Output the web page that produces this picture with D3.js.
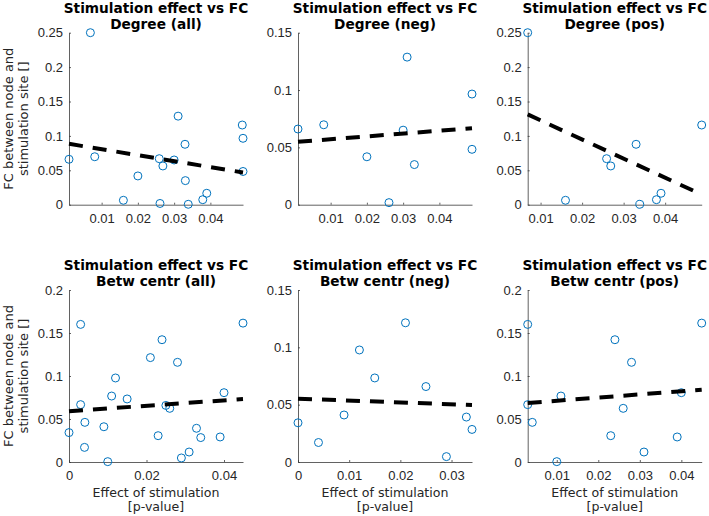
<!DOCTYPE html>
<html>
<head>
<meta charset="utf-8">
<script src="https://cdn.jsdelivr.net/npm/d3@7"></script>
<style>
  body { margin: 0; background: #fff; }
  svg { display: block; font-family: "DejaVu Sans", sans-serif; }
  .axis path, .axis line { stroke: #3a3a3a; stroke-width: 0.8; }
  .axis text { fill: #262626; font-size: 13px; }
</style>
</head>
<body>
<svg width="709" height="516"></svg>
<script>
// points: x = effect of stimulation (p-value), y = FC
var degNegX = [0.0010, 0.0081, 0.0200, 0.0261, 0.0300, 0.0311, 0.0331, 0.0490, 0.0490];
var degNegY = [0.0660, 0.0697, 0.0418, 0.0018, 0.0650, 0.1287, 0.0350, 0.0965, 0.0483];
var degPosX = [0.0069, 0.0160, 0.0259, 0.0269, 0.0330, 0.0339, 0.0379, 0.0390, 0.0488];
var degPosY = [0.2500, 0.0064, 0.0669, 0.0563, 0.0878, 0.0006, 0.0073, 0.0166, 0.1158];

var btwNegX = [0.0000, 0.0040, 0.0090, 0.0120, 0.0150, 0.0210, 0.0250, 0.0290, 0.0329, 0.0340];
var btwNegY = [0.0342, 0.0170, 0.0410, 0.0977, 0.0733, 0.1214, 0.0658, 0.0047, 0.0392, 0.0284];
var btwPosX = [0.0030, 0.0030, 0.0041, 0.0100, 0.0110, 0.0230, 0.0240, 0.0260, 0.0280, 0.0310, 0.0390, 0.0400, 0.0449];
var btwPosY = [0.1600, 0.0667, 0.0461, 0.0004, 0.0767, 0.0306, 0.1422, 0.0624, 0.1159, 0.0116, 0.0291, 0.0806, 0.1615];

var titles = ["Degree (all)", "Degree (neg)", "Degree (pos)",
              "Betw centr (all)", "Betw centr (neg)", "Betw centr (pos)"];
var yMax = [0.25, 0.15, 0.25, 0.2, 0.15, 0.2];
var yTicks = [[0, 0.05, 0.1, 0.15, 0.2, 0.25], [0, 0.05, 0.1, 0.15], [0, 0.05, 0.1, 0.15, 0.2, 0.25],
              [0, 0.05, 0.1, 0.15, 0.2], [0, 0.05, 0.1, 0.15], [0, 0.05, 0.1, 0.15, 0.2]];
var xTicks = [[0.01, 0.02, 0.03, 0.04], [0.01, 0.02, 0.03, 0.04], [0.01, 0.02, 0.03, 0.04],
              [0, 0.02, 0.04], [0, 0.01, 0.02, 0.03], [0.01, 0.02, 0.03, 0.04]];

var panelX = [degNegX.concat(degPosX), degNegX, degPosX, btwNegX.concat(btwPosX), btwNegX, btwPosX];
var panelY = [degNegY.concat(degPosY), degNegY, degPosY, btwNegY.concat(btwPosY), btwNegY, btwPosY];

var colLeft = [69, 298, 527.7];
var rowTop = [32.7, 290];
var w = 174, h = 172;
var fmt = d3.format("~g");

var svg = d3.select("svg");

// least squares line through the points
function fit(xs, ys) {
    var mx = d3.mean(xs), my = d3.mean(ys);
    var sxy = d3.sum(xs, function (d, i) { return (d - mx) * (ys[i] - my); });
    var sxx = d3.sum(xs, function (d) { return (d - mx) * (d - mx); });
    var b = sxy / sxx;
    return function (x) { return my + b * (x - mx); };
}

for (var p = 0; p < 6; p++) {
    var row = Math.floor(p / 3), col = p % 3;
    var xs = panelX[p], ys = panelY[p];
    var pts = xs.map(function (d, i) { return { x: d, y: ys[i] }; });

    var x = d3.scaleLinear().domain(d3.extent(xs)).range([0, w]);
    var y = d3.scaleLinear().domain([0, yMax[p]]).range([h, 0]);

    var g = svg.append("g")
        .attr("transform", "translate(" + colLeft[col] + "," + rowTop[row] + ")");

    g.append("g")
        .attr("class", "axis")
        .attr("transform", "translate(0," + h + ")")
        .call(d3.axisBottom(x).tickValues(xTicks[p]).tickFormat(fmt)
            .tickSizeInner(-2).tickSizeOuter(0).tickPadding(9));

    g.append("g")
        .attr("class", "axis")
        .call(d3.axisLeft(y).tickValues(yTicks[p]).tickFormat(fmt)
            .tickSizeInner(-2).tickSizeOuter(0).tickPadding(6));

    g.selectAll("circle")
        .data(pts)
        .enter().append("circle")
        .attr("cx", function (d) { return x(d.x); })
        .attr("cy", function (d) { return y(d.y); })
        .attr("r", 4)
        .attr("fill", "none")
        .attr("stroke", "#0072BD")
        .attr("stroke-width", 1);

    var f = fit(xs, ys);
    var dom = x.domain();
    g.append("line")
        .attr("x1", x(dom[0])).attr("y1", y(f(dom[0])))
        .attr("x2", x(dom[1])).attr("y2", y(f(dom[1])))
        .attr("stroke", "black")
        .attr("stroke-width", 4)
        .attr("stroke-dasharray", "14,10");

    var title = g.append("text")
        .attr("text-anchor", "middle")
        .style("font-weight", "bold")
        .style("font-size", "13.7px")
        .attr("fill", "black");
    title.append("tspan").attr("x", w / 2).attr("y", -20).text("Stimulation effect vs FC");
    title.append("tspan").attr("x", w / 2).attr("y", -4).text(titles[p]);

    if (col == 0) {
        var yl = svg.append("text")
            .attr("transform", "translate(0," + (rowTop[row] + h / 2) + ") rotate(-90)")
            .attr("text-anchor", "middle")
            .style("font-size", "13px")
            .attr("fill", "#262626");
        yl.append("tspan").attr("x", 0).attr("y", 13.3).text("FC between node and");
        yl.append("tspan").attr("x", 0).attr("y", 27.6).text("stimulation site []");
    }

    if (row == 1) {
        var xl = g.append("text")
            .attr("text-anchor", "middle")
            .style("font-size", "12.6px")
            .attr("fill", "#262626");
        xl.append("tspan").attr("x", w / 2).attr("y", h + 35).text("Effect of stimulation");
        xl.append("tspan").attr("x", w / 2).attr("y", h + 49).text("[p-value]");
    }
}
</script>
</body>
</html>
